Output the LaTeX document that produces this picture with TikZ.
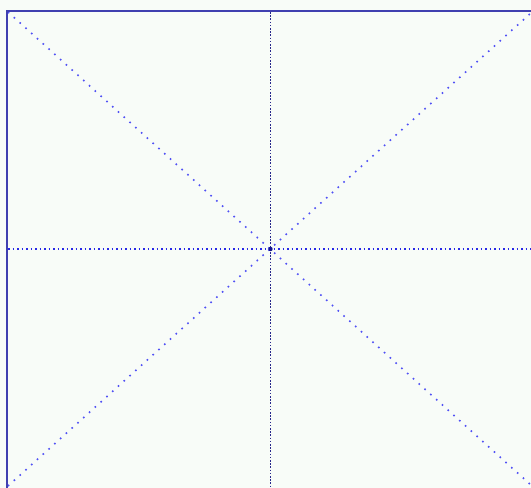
\documentclass[tikz,border=0pt]{standalone}
\definecolor{bgcol}{RGB}{248,252,248}
\definecolor{framec}{RGB}{64,64,176}
\definecolor{diagc}{RGB}{80,80,245}
\definecolor{hcol}{RGB}{40,40,230}
\definecolor{vcol}{RGB}{40,40,140}
\definecolor{ccol}{RGB}{20,20,140}
\begin{document}
\begin{tikzpicture}[x=1pt,y=-1pt,
  framecol/.style={draw=framec, line width=2.4pt},
  diagline/.style={draw=diagc, line width=1.6pt, dash pattern=on 1.6pt off 6.2pt},
  hline/.style={draw=hcol, line width=1.5pt, dash pattern=on 1.5pt off 3pt},
  vline/.style={draw=vcol, line width=1.6pt, dash pattern=on 1.6pt off 1.6pt}]
\fill[bgcol] (0,0) rectangle (531,488);
\useasboundingbox (0,0) rectangle (531,488);
\coordinate (tl) at (8,12);
\coordinate (br) at (532,486);
\coordinate (bl) at (8,486);
\coordinate (tr) at (532,12);
\coordinate (c) at (270.5,249);
\coordinate (ctop) at (270.5,12);
\coordinate (cbot) at (270.5,488);
\coordinate (cleft) at (8,249);
\coordinate (cright) at (531,249);
\begin{scope}
\clip (0,0) rectangle (531,488);
\path[diagline] (tl) -- (br);
\path[diagline] (bl) -- (tr);
\path[hline] (cleft) -- (cright);
\path[vline] (ctop) -- (cbot);
\fill[ccol] (c) circle (2.2pt);
\path[framecol] (7,488) -- (7,11) -- (531,11);
\end{scope}
\end{tikzpicture}
\end{document}
